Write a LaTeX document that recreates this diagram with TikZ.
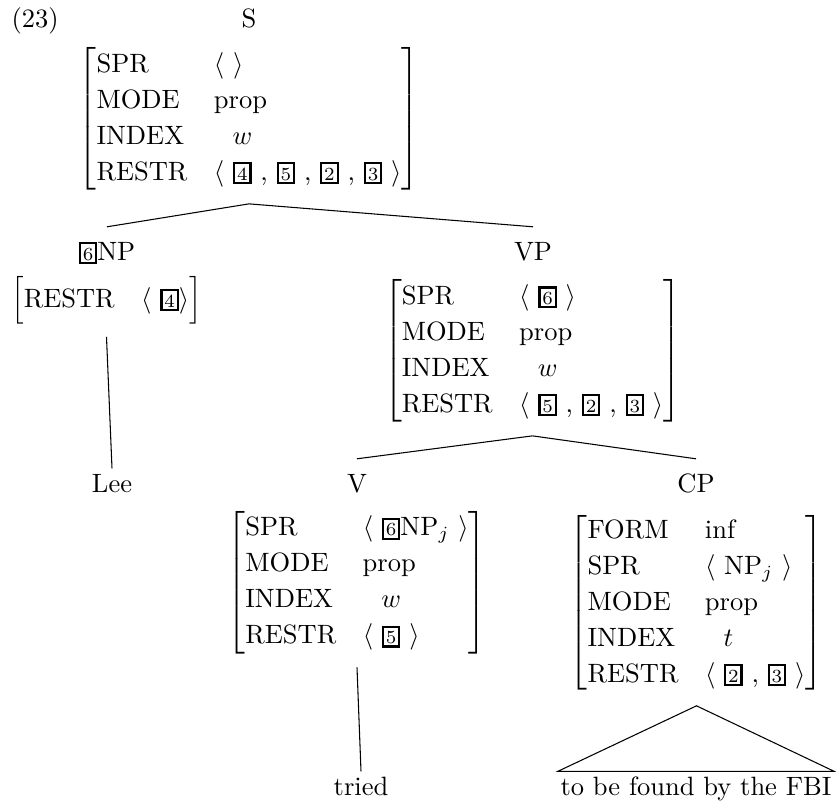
\documentclass[tikz,border=0pt]{standalone}
\usetikzlibrary{calc}
\renewcommand\arraystretch{1.13}
\newcommand\tb[1]{{\setlength\fboxsep{0.55pt}\setlength\fboxrule{0.85pt}\fbox{\rule{0pt}{5.4pt}\makebox[4.2pt]{\scriptsize #1}}}}
\newcommand\avm[1]{$\left[\begin{tabular}{@{}l@{\hspace{10pt}}l@{}}#1\end{tabular}\right]$}
\newcommand\lan{$\langle$}
\newcommand\ran{$\rangle$}
\begin{document}
\begin{tikzpicture}[x=0.37736pt,y=-0.37736pt,
  cat/.style={inner sep=0pt, outer xsep=0pt, outer ysep=5.7pt, text height=6.83pt, anchor=base},
  avmn/.style={inner sep=0pt, outer xsep=0pt, outer ysep=4.9pt},
  leaf/.style={inner sep=0pt, outer xsep=0pt, outer ysep=2pt, text height=6.94pt, anchor=base}]
\useasboundingbox (0,0) rectangle (836,804);

\node[inner sep=0pt, anchor=base west] (ex) at (11,27) {(23)};
\node[cat] (Sl) at (249,27) {S};
\node[avmn] (Sm) at (249,119) {\avm{SPR & \lan{} \ran\\
MODE & prop\\
INDEX & \hspace{7pt}$w$\\
RESTR & \lan{} \tb{4} , \tb{5} , \tb{2} , \tb{3} \ran}};

\node[cat] (NPl) at (107,260) {\tb{6}NP};
\node[avmn] (NPm) at (106.5,300) {\avm{RESTR & \lan{} \tb{4}\ran}};

\node[cat] (VPl) at (533,260) {VP};
\node[avmn] (VPm) at (532.5,351) {\avm{SPR & \lan{} \tb{6} \ran\\
MODE & prop\\
INDEX & \hspace{7pt}$w$\\
RESTR & \lan{} \tb{5} , \tb{2} , \tb{3} \ran}};

\node[leaf] (Lee) at (112,492) {Lee};

\node[cat] (Vl) at (357,492) {V};
\node[avmn] (Vm) at (357,582.5) {\avm{SPR & \lan{} \tb{6}NP$_j$ \ran\\
MODE & prop\\
INDEX & \hspace{7pt}$w$\\
RESTR & \lan{} \tb{5} \ran}};

\node[cat] (CPl) at (696,492) {CP};
\node[avmn] (CPm) at (696.5,603) {\avm{FORM & inf\\
SPR & \lan{} NP$_j$ \ran\\
MODE & prop\\
INDEX & \hspace{7pt}$t$\\
RESTR & \lan{} \tb{2} , \tb{3} \ran}};

\node[leaf] (tried) at (361,795) {tried};
\node[leaf, inner xsep=1pt] (fbi) at (696,795) {to be found by the FBI};

\draw (Sm.south) -- (NPl.north);
\draw (Sm.south) -- (VPl.north);
\draw (NPm.south) -- (Lee.north);
\draw (VPm.south) -- (Vl.north);
\draw (VPm.south) -- (CPl.north);
\draw (Vm.south) -- (tried.north);
\draw (CPm.south) -- (fbi.north west) -- (fbi.north east) -- cycle;
\end{tikzpicture}
\end{document}
